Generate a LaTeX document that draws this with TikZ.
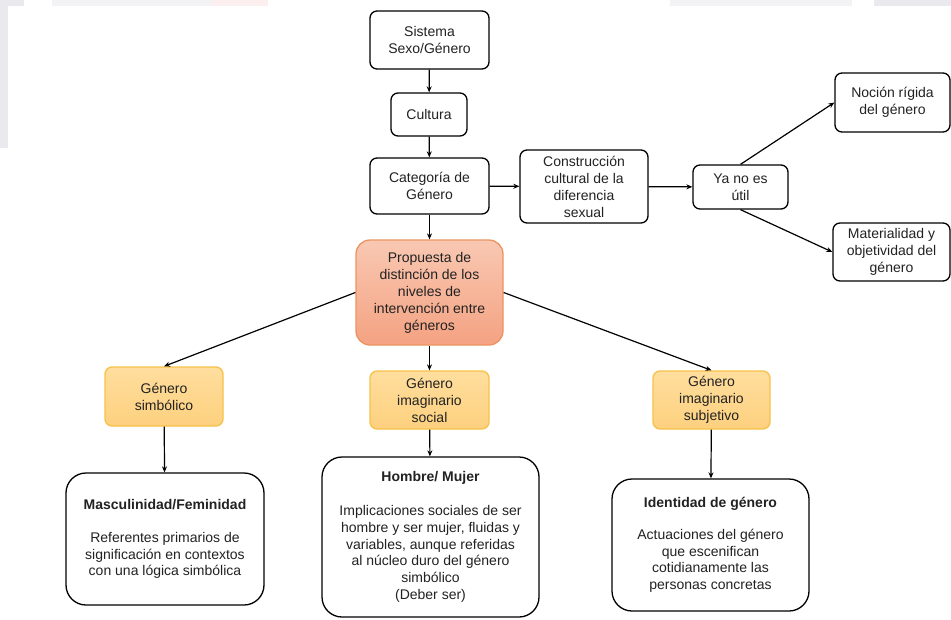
\documentclass[tikz,border=0pt]{standalone}
\usepackage{fontspec}
\setmainfont{Liberation Sans}
\usetikzlibrary{arrows.meta}
\definecolor{txt}{HTML}{222222}
\definecolor{bandgray}{HTML}{EAEAEE}
\definecolor{bandlight}{HTML}{F3F3F5}
\definecolor{bandpink}{HTML}{FBEFF0}
\definecolor{orangetop}{HTML}{F9C8B2}
\definecolor{orangebot}{HTML}{F4A282}
\definecolor{orangeline}{HTML}{EC9460}
\definecolor{ambertop}{HTML}{FFDE9E}
\definecolor{amberbot}{HTML}{FDD07E}
\definecolor{amberline}{HTML}{F7C24A}
\tikzset{
  box/.style={draw=black, line width=1.3pt, rounded corners=7pt, fill=white,
    align=center, text=txt, font=\fontsize{14}{17}\selectfont, inner sep=1pt},
  bigbox/.style={box, rounded corners=20pt, font=\fontsize{14}{16.8}\selectfont},
  keybox/.style={draw=orangeline, line width=1.3pt, rounded corners=14pt,
    top color=orangetop, bottom color=orangebot, align=center, text=txt,
    font=\fontsize{14}{17}\selectfont, inner sep=1pt},
  levelbox/.style={draw=amberline, line width=1.3pt, rounded corners=7pt,
    top color=ambertop, bottom color=amberbot, align=center, text=txt,
    font=\fontsize{14}{17}\selectfont, inner sep=1pt},
  arr/.style={line width=1.2pt, -{Stealth[length=6pt,width=5pt]}}
}
\begin{document}
\begin{tikzpicture}[x=1pt,y=-1pt]
  % page frame
  \fill[white] (0,0) rectangle (951,619);
  \useasboundingbox (0,0) rectangle (951,619);
  % faint page bands behind the diagram
  \fill[bandgray] (0,0) rectangle (8,148);
  \fill[bandgray] (0,0) rectangle (24,6);
  \fill[bandlight] (52,0) rectangle (245,6);
  \fill[bandpink] (212,0) rectangle (268,6);
  \fill[bandlight] (670,0) rectangle (852,6);
  \fill[bandgray] (874,0) rectangle (951,6);

  % main column
  \node[box, minimum width=119pt, minimum height=58pt] (sis) at (429.5,40) {Sistema\\Sexo/Género};
  \node[box, minimum width=76pt, minimum height=43pt] (cul) at (429,114.5) {Cultura};
  \node[box, minimum width=119pt, minimum height=56pt] (cat) at (429.5,186) {Categoría de\\Género};

  % right branch
  \node[box, minimum width=128pt, minimum height=73pt] (con) at (584,186.5) {Construcción\\cultural de la\\diferencia\\sexual};
  \node[box, minimum width=95pt, minimum height=44pt] (ya) at (740.5,187) {Ya no es\\útil};
  \node[box, minimum width=115pt, minimum height=59pt] (noc) at (892.5,102.5) {Noción rígida\\del género};
  \node[box, minimum width=117pt, minimum height=58pt] (mat) at (891.5,252) {Materialidad y\\objetividad del\\género};

  % proposal
  \node[keybox, minimum width=147pt, minimum height=105pt] (pro) at (429.5,292.5) {Propuesta de\\distinción de los\\niveles de\\intervención entre\\géneros};

  % levels
  \node[levelbox, minimum width=118pt, minimum height=59pt] (sim) at (164,396.5) {Género\\simbólico};
  \node[levelbox, minimum width=119pt, minimum height=58pt] (soc) at (429.5,400) {Género\\imaginario\\social};
  \node[levelbox, minimum width=117pt, minimum height=58pt] (sub) at (711.5,400) {Género\\imaginario\\subjetivo};

  % descriptions
  \node[bigbox, minimum width=198pt, minimum height=132pt] (mas) at (165,539)
    {\textbf{Masculinidad/Feminidad}\\[16pt]Referentes primarios de\\significación en contextos\\con una lógica simbólica};
  \node[bigbox, minimum width=217pt, minimum height=160pt] (hom) at (430.5,537)
    {\textbf{Hombre/ Mujer}\\[17pt]Implicaciones sociales de ser\\hombre y ser mujer, fluidas y\\variables, aunque referidas\\al núcleo duro del género\\simbólico\\(Deber ser)};
  \node[bigbox, minimum width=197pt, minimum height=132pt] (ide) at (710.5,545)
    {\textbf{Identidad de género}\\[15pt]Actuaciones del género\\que escenifican\\cotidianamente las\\personas concretas};

  % connectors
  \draw[arr] (sis) -- (cul);
  \draw[arr] (cul) -- (cat);
  \draw[arr] (cat) -- (con);
  \draw[arr] (con) -- (ya);
  \draw[arr] (ya.north) -- (noc.west);
  \draw[arr] (ya.south) -- (mat.west);
  \draw[arr] (cat) -- (pro);
  \draw[arr] (pro.west) -- (sim.north);
  \draw[arr] (pro) -- (soc);
  \draw[arr] (pro.east) -- (sub.north);
  \draw[arr] (sim) -- (mas);
  \draw[arr] (soc) -- (hom);
  \draw[arr] (sub) -- (ide);
\end{tikzpicture}
\end{document}
